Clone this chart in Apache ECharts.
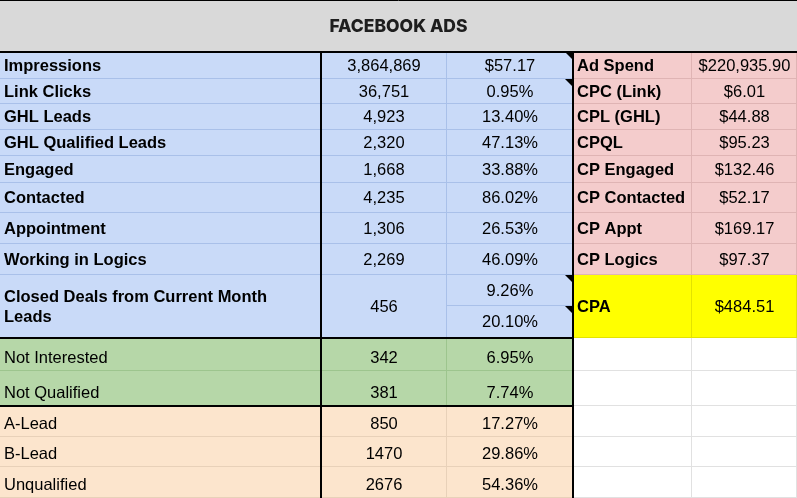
<!DOCTYPE html>
<html>
<head>
<meta charset="utf-8">
<title>Facebook Ads</title>
<script src="https://cdn.jsdelivr.net/npm/echarts@6/dist/echarts.min.js"></script>
<style>
  html, body { margin: 0; padding: 0; background: #ffffff; }
  #chart { width: 797px; height: 498px; }
</style>
</head>
<body>
<div id="chart"></div>
<script>
// sheet contents
const title = 'FACEBOOK ADS';

const funnelLabels = ['Impressions', 'Link Clicks', 'GHL Leads', 'GHL Qualified Leads', 'Engaged',
  'Contacted', 'Appointment', 'Working in Logics', 'Closed Deals from Current Month\nLeads'];
const funnelCounts = [3864869, 36751, 4923, 2320, 1668, 4235, 1306, 2269, 456];
// first one is CPM in dollars, the rest are percentages
const funnelRates = [57.17, 0.95, 13.40, 47.13, 33.88, 86.02, 26.53, 46.09, 9.26];
const closedRate2 = 20.10;

const costLabels = ['Ad Spend', 'CPC (Link)', 'CPL (GHL)', 'CPQL', 'CP Engaged',
  'CP Contacted', 'CP Appt', 'CP Logics', 'CPA'];
const costValues = [220935.90, 6.01, 44.88, 95.23, 132.46, 52.17, 169.17, 97.37, 484.51];

const statusLabels = ['Not Interested', 'Not Qualified'];
const statusCounts = [342, 381];
const statusRates = [6.95, 7.74];

const gradeLabels = ['A-Lead', 'B-Lead', 'Unqualified'];
const gradeCounts = [850, 1470, 2676];
const gradeRates = [17.27, 29.86, 54.36];

// sheet geometry (axis units = px)
const COLS = [0, 321, 447, 573, 692, 797];
const ROWS = [52, 79, 104, 130, 156, 183, 213, 244, 275, 338, 371, 406, 437, 467, 498];
const SPLIT_Y = 306;

const BLUE = { fill: '#c9daf8', grid: '#a9c0e9' };
const PINK = { fill: '#f4cccc', grid: '#dfb4b4' };
const YELLOW = { fill: '#ffff00', grid: '#e3e300' };
const GREEN = { fill: '#b6d7a8', grid: '#9dc58e' };
const PEACH = { fill: '#fce5cd', grid: '#e8d1b9' };
const WHITE = { fill: '#ffffff', grid: '#e1e1e1' };

const FONT = '"Liberation Sans", Arial, sans-serif';

const money = v => '$' + v.toLocaleString('en-US', { minimumFractionDigits: 2, maximumFractionDigits: 2 });
const pct = v => v.toFixed(2) + '%';

const cells = [];
function cell(x0, y0, x1, y1, pal, text, opt) {
  cells.push(Object.assign({ value: [x0, y0, x1, y1], pal: pal, text: text,
    align: 'center', bold: false, valign: 'middle', note: false }, opt || {}));
}

cell(0, 0, 797, 52, { fill: '#d9d9d9', grid: null }, title, { title: true });

funnelLabels.forEach(function (lab, i) {
  const y0 = ROWS[i], y1 = ROWS[i + 1];
  cell(COLS[0], y0, COLS[1], y1, BLUE, lab, { align: 'left', bold: true });
  cell(COLS[1], y0, COLS[2], y1, BLUE, funnelCounts[i].toLocaleString('en-US'));
  if (i < funnelLabels.length - 1) {
    cell(COLS[2], y0, COLS[3], y1, BLUE, i === 0 ? money(funnelRates[i]) : pct(funnelRates[i]), { note: i < 2 });
  } else {
    cell(COLS[2], y0, COLS[3], SPLIT_Y, BLUE, pct(funnelRates[i]), { note: true });
    cell(COLS[2], SPLIT_Y, COLS[3], y1, BLUE, pct(closedRate2), { note: true });
  }
  const pal = i === funnelLabels.length - 1 ? YELLOW : PINK;
  cell(COLS[3], y0, COLS[4], y1, pal, costLabels[i], { align: 'left', bold: true });
  cell(COLS[4], y0, COLS[5], y1, pal, money(costValues[i]));
});

function lowerBlock(labels, counts, rates, pal, r0) {
  labels.forEach(function (lab, i) {
    const y0 = ROWS[r0 + i], y1 = ROWS[r0 + i + 1];
    cell(COLS[0], y0, COLS[1], y1, pal, lab, { align: 'left', valign: 'bottom' });
    cell(COLS[1], y0, COLS[2], y1, pal, String(counts[i]), { valign: 'bottom' });
    cell(COLS[2], y0, COLS[3], y1, pal, pct(rates[i]), { valign: 'bottom' });
    cell(COLS[3], y0, COLS[4], y1, WHITE, '');
    cell(COLS[4], y0, COLS[5], y1, WHITE, '');
  });
}
lowerBlock(statusLabels, statusCounts, statusRates, GREEN, 9);
lowerBlock(gradeLabels, gradeCounts, gradeRates, PEACH, 11);

// heavy borders
const rules = [
  [0, 0, 797, 0, 1],
  [0, 52, 797, 52, 2],
  [COLS[1], 52, COLS[1], 498, 2],
  [COLS[3], 52, COLS[3], 498, 2],
  [0, ROWS[9], COLS[3], ROWS[9], 2],
  [0, ROWS[11], COLS[3], ROWS[11], 2]
];

function renderCell(params, api) {
  const c = cells[params.dataIndex];
  const p0 = api.coord([api.value(0), api.value(1)]);
  const p1 = api.coord([api.value(2), api.value(3)]);
  const x0 = p0[0], y0 = p0[1], x1 = p1[0], y1 = p1[1];
  const kids = [{
    type: 'rect',
    shape: { x: x0, y: y0, width: x1 - x0, height: y1 - y0 },
    style: { fill: c.pal.fill }
  }];
  if (c.pal.grid) {
    kids.push({ type: 'line', shape: { x1: x1 - 0.5, y1: y0, x2: x1 - 0.5, y2: y1 },
      style: { stroke: c.pal.grid, lineWidth: 1 } });
    kids.push({ type: 'line', shape: { x1: x0, y1: y1 - 0.5, x2: x1, y2: y1 - 0.5 },
      style: { stroke: c.pal.grid, lineWidth: 1 } });
  }
  if (c.note) {
    kids.push({ type: 'polygon', shape: { points: [[x1 - 8, y0], [x1, y0], [x1, y0 + 8]] },
      style: { fill: '#000' } });
  }
  if (c.text) {
    const tx = c.align === 'left' ? x0 + 4 : (x0 + x1) / 2;
    const ty = c.valign === 'bottom' ? y1 - 12.5 : (y0 + y1) / 2 + 0.5;
    const family = c.title ? 'Inter, "Open Sans", sans-serif' : FONT;
    const size = c.title ? 17.5 : 16.5;
    const weight = c.title ? 800 : (c.bold ? 'bold' : 'normal');
    kids.push({
      type: 'text',
      style: {
        text: c.text, x: tx, y: ty,
        fill: c.title ? '#1e1e1e' : '#000',
        font: weight + ' ' + size + 'px ' + family,
        fontSize: size, fontFamily: family, fontWeight: weight,
        lineHeight: 20,
        align: c.align, textAlign: c.align,
        verticalAlign: 'middle', textVerticalAlign: 'middle'
      }
    });
  }
  return { type: 'group', children: kids };
}

function renderRule(params, api) {
  const w = rules[params.dataIndex][4];
  const p0 = api.coord([api.value(0), api.value(1)]);
  const p1 = api.coord([api.value(2), api.value(3)]);
  const off = w % 2 ? 0.5 : 0;
  const horiz = p0[1] === p1[1];
  return {
    type: 'line',
    shape: horiz
      ? { x1: p0[0], y1: Math.round(p0[1]) + off, x2: p1[0], y2: Math.round(p1[1]) + off }
      : { x1: Math.round(p0[0]) + off, y1: p0[1], x2: Math.round(p1[0]) + off, y2: p1[1] },
    style: { stroke: '#000', lineWidth: w }
  };
}

const chart = echarts.init(document.getElementById('chart'), null, { renderer: 'canvas' });
chart.setOption({
  backgroundColor: '#ffffff',
  animation: false,
  grid: { left: 0, right: 0, top: 0, bottom: 0 },
  xAxis: { type: 'value', min: 0, max: 797, show: false },
  yAxis: { type: 'value', min: 0, max: 498, inverse: true, show: false },
  series: [{
    name: 'cells',
    type: 'custom',
    silent: true,
    clip: false,
    renderItem: renderCell,
    encode: { x: [0, 2], y: [1, 3] },
    data: cells.map(c => c.value)
  }, {
    name: 'rules',
    type: 'custom',
    silent: true,
    clip: false,
    renderItem: renderRule,
    encode: { x: [0, 2], y: [1, 3] },
    data: rules.map(r => r.slice(0, 4))
  }]
});
</script>
</body>
</html>
